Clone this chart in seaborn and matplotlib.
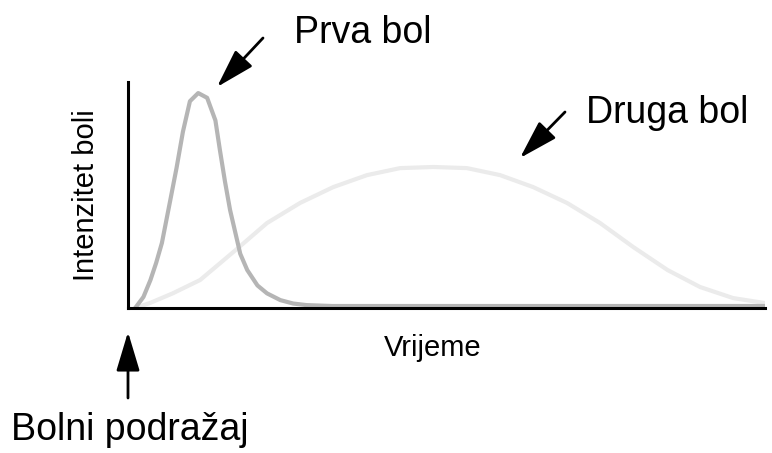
import matplotlib
matplotlib.use("Agg")
import matplotlib.pyplot as plt
import seaborn as sns
import pandas as pd

# =====================================
# 1. DATA
# =====================================

prva_t = [1.1, 2.4, 3.5, 4.4, 5.3, 6.6, 7.6, 8.6, 9.7, 11.0, 12.4, 13.7, 14.4, 15.2,
          16.0, 17.6, 18.7, 20.3, 21.8, 23.9, 25.9, 28.0, 32.0, 50.0, 75.0, 100.0]
prva_y = [0.0, 4.9, 12.4, 20.0, 28.8, 47.5, 62.0, 78.0, 91.5, 95.1, 93.0, 83.0, 70.0, 56.0,
          43.4, 24.0, 16.8, 10.0, 6.5, 3.5, 2.0, 1.3, 0.9, 0.9, 0.9, 0.9]

druga_t = [1.1, 3.4, 7.0, 11.3, 16.9, 21.8, 27.0, 32.2, 37.5, 42.7, 47.9, 53.2,
           58.4, 63.6, 68.9, 74.1, 79.3, 84.7, 89.8, 95.0, 100.0]
druga_y = [0.0, 2.2, 6.5, 12.4, 25.7, 37.6, 46.5, 53.5, 58.8, 61.9, 62.4, 61.9,
           58.8, 53.5, 46.5, 37.6, 27.0, 16.8, 9.3, 4.4, 2.2]

df_prva = pd.DataFrame({"t": prva_t, "y": prva_y})
df_druga = pd.DataFrame({"t": druga_t, "y": druga_y})

# =====================================
# 2. PLOT
# =====================================

sns.set_style("white")
plt.rcParams['font.family'] = ['Liberation Sans', 'DejaVu Sans']

fig = plt.figure(figsize=(7.72, 4.53), dpi=100)
ax = fig.add_axes([0.166, 0.320, 0.825, 0.499])

sns.lineplot(data=df_druga, x="t", y="y", ax=ax, color="#ebebeb",
             linewidth=3.0, solid_capstyle="round", solid_joinstyle="round")
sns.lineplot(data=df_prva, x="t", y="y", ax=ax, color="#b5b5b5",
             linewidth=3.0, solid_capstyle="round", solid_joinstyle="round")

ax.set_xlim(0, 100)
ax.set_ylim(0, 100)
ax.set_xticks([])
ax.set_yticks([])

for side in ["top", "right"]:
    ax.spines[side].set_visible(False)
for side in ["left", "bottom"]:
    ax.spines[side].set_color("black")
    ax.spines[side].set_linewidth(2.2)

ax.set_xlabel("Vrijeme", fontsize=21, color="black")
ax.xaxis.set_label_coords((433 - 128) / 637, -0.115)
ax.set_ylabel("Intenzitet boli", fontsize=21, labelpad=20, color="black")

# =====================================
# 3. ANNOTATIONS
# =====================================

arrow = dict(arrowstyle="-|>,head_length=1.2,head_width=0.36",
             color="black", lw=2, mutation_scale=20, shrinkA=0, shrinkB=0)


def fx(px):
    return px / 772


def fy(py):
    return 1 - py / 453


fig.text(fx(294), fy(43), "Prva bol", fontsize=27, va="baseline", ha="left", color="black")
ax.annotate("", xy=(fx(217), fy(87)), xycoords="figure fraction",
            xytext=(fx(263), fy(38)), textcoords="figure fraction",
            arrowprops=arrow)

fig.text(fx(586), fy(123), "Druga bol", fontsize=27, va="baseline", ha="left", color="black")
ax.annotate("", xy=(fx(520), fy(158)), xycoords="figure fraction",
            xytext=(fx(565), fy(112)), textcoords="figure fraction",
            arrowprops=arrow)

fig.text(fx(11), fy(440), "Bolni podražaj", fontsize=27, va="baseline", ha="left", color="black")
ax.annotate("", xy=(fx(128), fy(332)), xycoords="figure fraction",
            xytext=(fx(128), fy(398)), textcoords="figure fraction",
            arrowprops=arrow)

fig.savefig("out.png", dpi=100)
